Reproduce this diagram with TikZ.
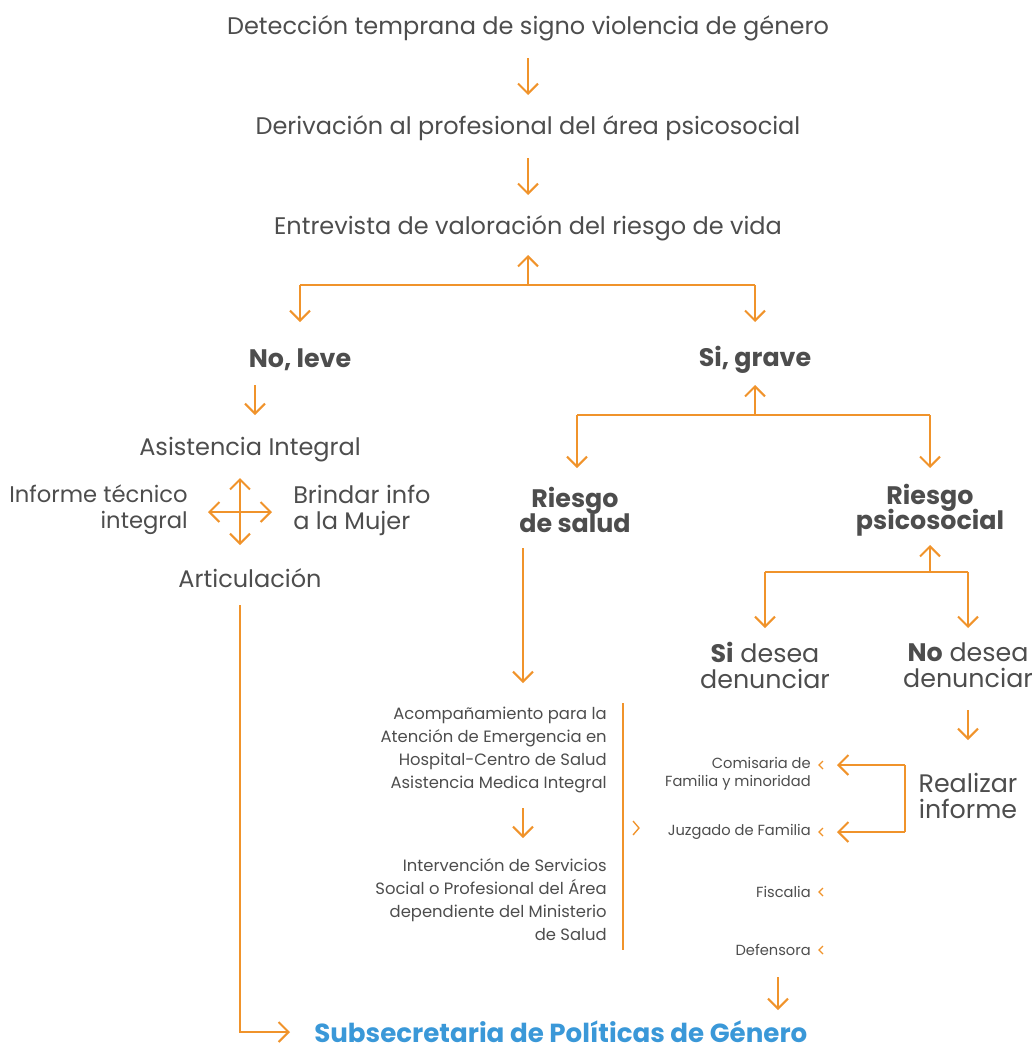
\documentclass[tikz,border=0pt]{standalone}
\usepackage{fontspec}
\setmainfont{Poppins}
\usetikzlibrary{arrows.meta,calc}
\definecolor{org}{HTML}{F0932B}
\definecolor{txt}{HTML}{4D4D4D}
\definecolor{blu}{HTML}{3A98D8}
\newcommand\mynols{\lineskiplimit -10pt\relax}
\begin{document}
\begin{tikzpicture}[x=0.75pt,y=-0.75pt,
  ln/.style={draw=org,line width=1.5pt},
  tip/.tip={Straight Barb[length=7.5pt,width=15pt,line width=1.5pt]},
  conn/.style={ln,-tip},
  dconn/.style={ln,tip-tip},
  chev/.style={draw=org,line width=1pt},
  lbl/.style={text=txt,inner sep=0pt,font={\fontsize{18}{19.5}\selectfont\mynols}},
  hd/.style={text=txt,inner sep=0pt,align=center,font={\fontsize{19}{19}\selectfont\bfseries\mynols}},
  big/.style={text=txt,inner sep=0pt,align=center,font={\fontsize{19}{19.5}\selectfont\mynols}},
  sm/.style={text=txt,inner sep=0pt,align=right,font={\fontsize{12.3}{17.25}\selectfont\mynols}},
  tiny/.style={text=txt,inner sep=0pt,align=right,font={\fontsize{11}{13.5}\selectfont\mynols}}]
\useasboundingbox (0,0) rectangle (1034,1050);
% top chain
\node[lbl] (t1) at (528,28) {Detección temprana de signo violencia de género};
\node[lbl] (t2) at (528,128) {Derivación al profesional del área psicosocial};
\node[lbl] (t3) at (528,228) {Entrevista de valoración del riesgo de vida};
\draw[conn] ($(t1)+(0,30)$) -- ($(t2)+(0,-33)$);
\draw[conn] ($(t2)+(0,30)$) -- ($(t3)+(0,-33)$);
% fork 1
\node[hd] (nl) at (300,360) {No, leve};
\node[hd] (sg) at (755,360) {Si, grave};
\coordinate (f1) at (528,285);
\draw[conn] (f1) -- ($(t3)+(0,27)$);
\draw[ln] (f1 -| nl) -- (f1 -| sg);
\draw[conn] (f1 -| nl) -- ($(nl)+(0,-38)$);
\draw[conn] (f1 -| sg) -- ($(sg)+(0,-38)$);
% left branch
\node[lbl] (asis) at (250,450) {Asistencia Integral};
\coordinate (cx) at (240,512);
\draw[conn] ($(nl)+(-45,25)$) -- ($(asis)+(5,-35)$);
\draw[dconn] ($(cx)+(0,-34)$) -- ($(cx)+(0,33)$);
\draw[dconn] ($(cx)+(-32,0)$) -- ($(cx)+(32,0)$);
\node[lbl,anchor=east,align=right,font={\fontsize{17}{19.5}\selectfont\mynols}] (inf) at (188,510) {Informe técnico\\integral};
\node[lbl,anchor=west,align=left] (brin) at (293,510) {Brindar info\\a la Mujer};
\node[lbl] (art) at (250,578) {Articulación};
\node[text=blu,inner sep=0pt,anchor=west,font=\fontsize{19.6}{20}\selectfont\bfseries] (sub) at (314,1032) {Subsecretaria de Políticas de Género};
\draw[conn] ($(art)+(-10,27)$) -- (cx |- sub) -- ($(sub.west)+(-24,0)$);
% Si grave fork
\coordinate (g1) at (755,415);
\node[hd] (rs) at (575,510) {Riesgo\\de salud};
\node[hd] (rp) at (930,510) {Riesgo\\psicosocial};
\draw[conn] (g1) -- ($(sg)+(0,25)$);
\draw[ln] (g1 -| 577,0) -- (g1 -| rp);
\draw[conn] (g1 -| 577,0) -- ($(rs)+(2,-42)$);
\draw[conn] (g1 -| rp) -- ($(rp)+(0,-42)$);
% riesgo de salud
\node[sm,anchor=east] (acomp) at (607,750) {Acompañamiento para la\\Atención de Emergencia en\\Hospital-Centro de Salud\\Asistencia Medica Integral};
\node[sm,anchor=east] (interv) at (607,900) {Intervención de Servicios\\Social o Profesional del Área\\dependiente del Ministerio\\de Salud};
\coordinate (sx) at (523,548);
\draw[conn] (sx) -- (sx |- 0,683);
\draw[conn] ($(acomp.east)+(-84,58)$) -- ($(interv.east)+(-84,-62)$);
\coordinate (barT) at (623,703);
\coordinate (barB) at (623,950);
\draw[ln] (barT) -- (barB);
\coordinate (ch) at (636,828);
\draw[chev] ($(ch)+(-3,-7)$) -- ($(ch)+(3,0)$) -- ($(ch)+(-3,7)$);
% riesgo psicosocial fork
\coordinate (h1) at (930,572);
\node[big] (si) at (765,665) {\textbf{Si} desea\\denunciar};
\node[big] (no) at (968,665) {\textbf{No} desea\\denunciar};
\draw[conn] (h1) -- ($(rp)+(0,35)$);
\draw[ln] (h1 -| si) -- (h1 -| no);
\draw[conn] (h1 -| si) -- ($(si)+(0,-37)$);
\draw[conn] (h1 -| no) -- ($(no)+(0,-37)$);
\node[big] (rea) at (968,796) {Realizar\\informe};
\draw[conn] ($(no)+(0,45)$) -- ($(rea)+(0,-56)$);
% destinations
\node[tiny,anchor=north east] (com) at (811,757) {Comisaria de\\Familia y minoridad};
\node[tiny,anchor=east] (juz) at (811,832) {Juzgado de Familia};
\node[tiny,anchor=east] (fis) at (811,892) {Fiscalia};
\node[tiny,anchor=east] (def) at (811,950) {Defensora};
\foreach \yy in {765,832,892,950}{
  \draw[chev] (823,\yy-4) -- (819,\yy) -- (823,\yy+4);
}
\coordinate (bT) at (905,765);
\coordinate (bB) at (905,832);
\draw[ln] (bT) -- (bB);
\draw[conn] (bT) -- (bT -| 837,0);
\draw[conn] (bB) -- (bB -| 837,0);
\draw[conn] ($(def.east)+(-33,27)$) -- ($(def.east)+(-33,60)$);
\end{tikzpicture}
\end{document}
